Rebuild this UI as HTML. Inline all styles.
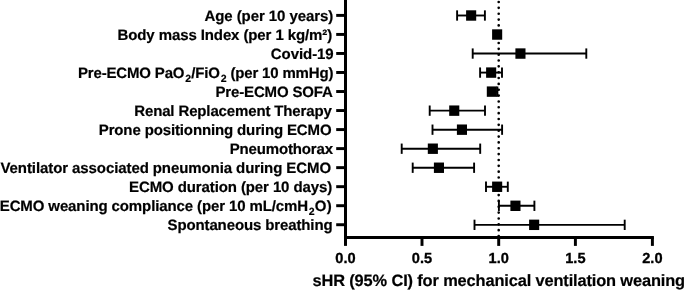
<!DOCTYPE html>
<html><head><meta charset="utf-8"><title>Forest plot</title>
<style>
html,body{margin:0;padding:0;background:#fff;overflow:hidden;}
svg{display:block;}
text{font-family:"Liberation Sans",sans-serif;font-weight:bold;fill:#000;text-rendering:geometricPrecision;stroke:#000;stroke-width:0.2px;}
.lab{font-size:15.0px;}
.tick{font-size:14.6px;text-anchor:middle;stroke-width:0.3px;}
.title{font-size:16.4px;}
.sub{font-size:10.5px;}
</style></head><body>
<svg width="685" height="290" viewBox="0 0 685 290">
<rect width="685" height="290" fill="#fff"/>
<line x1="498.7" y1="2.0" x2="498.7" y2="236" stroke="#000" stroke-width="2.65" stroke-linecap="round" stroke-dasharray="0 5.85"/>
<g stroke="#000" stroke-width="2.95" fill="none">
<line x1="345.5" y1="0" x2="345.5" y2="245.9"/>
<line x1="344.0" y1="237.4" x2="653.9" y2="237.4"/>
<line x1="422.0" y1="237.4" x2="422.0" y2="245.9"/>
<line x1="498.7" y1="237.4" x2="498.7" y2="245.9"/>
<line x1="575.4" y1="237.4" x2="575.4" y2="245.9"/>
<line x1="652.4" y1="237.4" x2="652.4" y2="245.9"/>
<line x1="336.2" y1="15.40" x2="345.5" y2="15.40"/>
<line x1="336.2" y1="34.43" x2="345.5" y2="34.43"/>
<line x1="336.2" y1="53.46" x2="345.5" y2="53.46"/>
<line x1="336.2" y1="72.49" x2="345.5" y2="72.49"/>
<line x1="336.2" y1="91.52" x2="345.5" y2="91.52"/>
<line x1="336.2" y1="110.55" x2="345.5" y2="110.55"/>
<line x1="336.2" y1="129.58" x2="345.5" y2="129.58"/>
<line x1="336.2" y1="148.61" x2="345.5" y2="148.61"/>
<line x1="336.2" y1="167.64" x2="345.5" y2="167.64"/>
<line x1="336.2" y1="186.67" x2="345.5" y2="186.67"/>
<line x1="336.2" y1="205.70" x2="345.5" y2="205.70"/>
<line x1="336.2" y1="224.73" x2="345.5" y2="224.73"/>
</g>
<g stroke="#000" stroke-width="1.9" fill="none">
<line x1="457.1" y1="15.50" x2="484.9" y2="15.50"/>
<line x1="457.1" y1="10.35" x2="457.1" y2="20.65"/>
<line x1="484.9" y1="10.35" x2="484.9" y2="20.65"/>
<line x1="472.7" y1="53.56" x2="586.3" y2="53.56"/>
<line x1="472.7" y1="48.41" x2="472.7" y2="58.71"/>
<line x1="586.3" y1="48.41" x2="586.3" y2="58.71"/>
<line x1="480.1" y1="72.59" x2="502.0" y2="72.59"/>
<line x1="480.1" y1="67.44" x2="480.1" y2="77.74"/>
<line x1="502.0" y1="67.44" x2="502.0" y2="77.74"/>
<line x1="491.9" y1="91.62" x2="497.4" y2="91.62"/>
<line x1="497.4" y1="86.47" x2="497.4" y2="96.77"/>
<line x1="429.7" y1="110.65" x2="485.0" y2="110.65"/>
<line x1="429.7" y1="105.50" x2="429.7" y2="115.80"/>
<line x1="485.0" y1="105.50" x2="485.0" y2="115.80"/>
<line x1="432.5" y1="129.68" x2="502.1" y2="129.68"/>
<line x1="432.5" y1="124.53" x2="432.5" y2="134.83"/>
<line x1="502.1" y1="124.53" x2="502.1" y2="134.83"/>
<line x1="401.7" y1="148.71" x2="480.2" y2="148.71"/>
<line x1="401.7" y1="143.56" x2="401.7" y2="153.86"/>
<line x1="480.2" y1="143.56" x2="480.2" y2="153.86"/>
<line x1="412.7" y1="167.74" x2="474.1" y2="167.74"/>
<line x1="412.7" y1="162.59" x2="412.7" y2="172.89"/>
<line x1="474.1" y1="162.59" x2="474.1" y2="172.89"/>
<line x1="486.0" y1="186.77" x2="507.8" y2="186.77"/>
<line x1="486.0" y1="181.62" x2="486.0" y2="191.92"/>
<line x1="507.8" y1="181.62" x2="507.8" y2="191.92"/>
<line x1="498.9" y1="205.80" x2="534.4" y2="205.80"/>
<line x1="498.9" y1="200.65" x2="498.9" y2="210.95"/>
<line x1="534.4" y1="200.65" x2="534.4" y2="210.95"/>
<line x1="474.5" y1="224.83" x2="624.7" y2="224.83"/>
<line x1="474.5" y1="219.68" x2="474.5" y2="229.98"/>
<line x1="624.7" y1="219.68" x2="624.7" y2="229.98"/>
</g>
<rect x="466.1" y="10.30" width="10.1" height="10.4" fill="#000"/>
<rect x="492.1" y="29.33" width="10.1" height="10.4" fill="#000"/>
<rect x="515.4" y="48.36" width="10.1" height="10.4" fill="#000"/>
<rect x="486.1" y="67.39" width="10.1" height="10.4" fill="#000"/>
<rect x="486.8" y="86.42" width="10.1" height="10.4" fill="#000"/>
<rect x="449.2" y="105.45" width="10.1" height="10.4" fill="#000"/>
<rect x="456.9" y="124.48" width="10.1" height="10.4" fill="#000"/>
<rect x="427.8" y="143.51" width="10.1" height="10.4" fill="#000"/>
<rect x="433.9" y="162.54" width="10.1" height="10.4" fill="#000"/>
<rect x="492.1" y="181.57" width="10.1" height="10.4" fill="#000"/>
<rect x="510.4" y="200.60" width="10.1" height="10.4" fill="#000"/>
<rect x="529.1" y="219.63" width="10.1" height="10.4" fill="#000"/>
<text class="lab" id="r0" x="204.50" y="20.60" textLength="128.73" lengthAdjust="spacing">Age (per 10 years)</text>
<text class="lab" id="r1" x="117.50" y="39.63" textLength="214.71" lengthAdjust="spacing">Body mass Index (per 1 kg/m²)</text>
<text class="lab" id="r2" x="270.75" y="58.66" textLength="62.96" lengthAdjust="spacing">Covid-19</text>
<text class="lab" id="r3" x="78.00" y="77.69" textLength="255.44" lengthAdjust="spacing">Pre-ECMO PaO<tspan class="sub" dx="1" dy="3.9">2</tspan><tspan dx="0.2" dy="-3.9">/FiO</tspan><tspan class="sub" dx="1" dy="3.9">2</tspan><tspan dy="-3.9"> (per 10 mmHg)</tspan></text>
<text class="lab" id="r4" x="215.50" y="96.72" textLength="117.34" lengthAdjust="spacing">Pre-ECMO SOFA</text>
<text class="lab" id="r5" x="134.25" y="115.75" textLength="197.56" lengthAdjust="spacing">Renal Replacement Therapy</text>
<text class="lab" id="r6" x="98.75" y="134.78" textLength="232.86" lengthAdjust="spacing">Prone positionning during ECMO</text>
<text class="lab" id="r7" x="229.75" y="153.81" textLength="103.22" lengthAdjust="spacing">Pneumothorax</text>
<text class="lab" id="r8" x="0.50" y="172.84" textLength="330.57" lengthAdjust="spacing">Ventilator associated pneumonia during ECMO</text>
<text class="lab" id="r9" x="129.00" y="191.87" textLength="203.18" lengthAdjust="spacing">ECMO duration (per 10 days)</text>
<text class="lab" id="r10" x="-0.25" y="210.90" textLength="331.94" lengthAdjust="spacing">ECMO weaning compliance (per 10 mL/cmH<tspan class="sub" dx="0.8" dy="3.9">2</tspan><tspan dx="0.2" dy="-3.9">O</tspan><tspan dx="0.5">)</tspan></text>
<text class="lab" id="r11" x="167.50" y="229.93" textLength="165.12" lengthAdjust="spacing">Spontaneous breathing</text>
<text class="tick" x="345.5" y="262.5">0.0</text>
<text class="tick" x="422.0" y="262.5">0.5</text>
<text class="tick" x="498.7" y="262.5">1.0</text>
<text class="tick" x="575.4" y="262.5">1.5</text>
<text class="tick" x="652.4" y="262.5">2.0</text>
<text class="title" id="tt" x="312.50" y="286.2" textLength="372.60" lengthAdjust="spacing">sHR (95% CI) for mechanical ventilation weaning</text>
</svg></body></html>
